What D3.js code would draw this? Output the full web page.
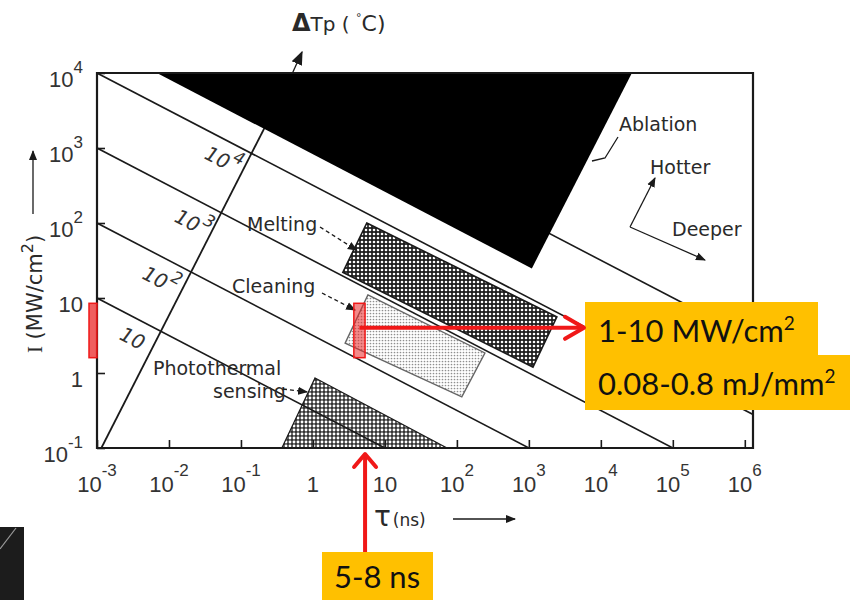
<!DOCTYPE html>
<html>
<head>
<meta charset="utf-8">
<script src="https://cdnjs.cloudflare.com/ajax/libs/d3/7.8.5/d3.min.js"></script>
<style>
  body { margin: 0; background: #fff; }
  svg { display: block; }
</style>
</head>
<body>
<svg width="850" height="600"></svg>
<script>
// pulse duration tau (ns) ticks
var xTickValues = [1e-3, 1e-2, 1e-1, 1, 10, 100, 1e3, 1e4, 1e5, 1e6];
var xTickBase = ["10", "10", "10", "1", "10", "10", "10", "10", "10", "10"];
var xTickExp = ["-3", "-2", "-1", "", "", "2", "3", "4", "5", "6"];

// intensity I (MW/cm2) ticks
var yTickValues = [0.1, 1, 10, 100, 1e3, 1e4];
var yTickBase = ["10", "1", "10", "10", "10", "10"];
var yTickExp = ["-1", "", "", "2", "3", "4"];

// iso-temperature lines dTp (deg C), end points [tau, I]
var isoBase = ["10", "10", "10", "10", "10"];
var isoExp = ["", "2", "3", "4", "5"];
var isoStart = [[1e-3, 10], [1e-3, 100], [1e-3, 1000], [1e-3, 1e4], [0.1, 1e4]];
var isoEnd = [[10, 0.1], [1000, 0.1], [1e5, 0.1], [1.3e6, 0.28], [1.3e6, 2.8]];
var isoLabelAt = [[0.0031, 2.9], [0.0075, 17.4], [0.021, 100], [0.055, 690], null];

// dTp axis line
var tempAxis = [[1.15e-3, 0.1], [0.52, 1e4]];

// process regions [tau, I]
var ablation = [[0.0068, 1e4], [1100, 24.8], [27000, 1e4]];
var melting = [[5.6, 100], [2450, 5.6], [1140, 1.2], [2.6, 22]];
var cleaning = [[5.8, 11], [245, 1.85], [117, 0.48], [2.8, 2.5]];
var photothermal = [[1.07, 0.86], [73, 0.1], [0.37, 0.1]];

// highlighted working point
var markI = [1.6, 8.5];
var markTau = [3.7, 5.3];
var arrowI = 4;
var arrowTau = 5.3;
var boxLines = ["1-10 MW/cm", "0.08-0.8 mJ/mm"];
var pulseText = "5-8 ns";

var svg = d3.select("svg"),
  width = +svg.attr("width"),
  height = +svg.attr("height");

var x = d3.scaleLog().domain([1e-3, 1.3e6]).range([97, 753]);
var y = d3.scaleLog().domain([0.1, 1e4]).range([448, 73]);

var line = d3.line()
  .x(function (d) { return x(d[0]); })
  .y(function (d) { return y(d[1]); });

var figFont = "DejaVu Sans, sans-serif";
var ink = "#1a1a1a";

var defs = svg.append("defs");
defs.append("clipPath").attr("id", "plot")
  .append("rect").attr("x", 97).attr("y", 73)
  .attr("width", 656).attr("height", 375);

function dotPattern(id, size, bg, dot, r) {
  var p = defs.append("pattern").attr("id", id)
    .attr("width", size).attr("height", size)
    .attr("patternUnits", "userSpaceOnUse");
  p.append("rect").attr("width", size).attr("height", size).attr("fill", bg);
  p.append("circle").attr("cx", size / 2).attr("cy", size / 2).attr("r", r).attr("fill", dot);
}
dotPattern("meltPat", 4, "#1e1e1e", "#fff", 1.3);
dotPattern("photoPat", 4, "#333", "#fff", 1.45);
dotPattern("cleanPat", 3, "#fff", "#8f8f8f", 0.85);

function arrowMarker(id, color, w) {
  defs.append("marker").attr("id", id)
    .attr("viewBox", "0 0 10 10").attr("refX", 9).attr("refY", 5)
    .attr("markerWidth", w).attr("markerHeight", w)
    .attr("markerUnits", "userSpaceOnUse")
    .attr("orient", "auto")
    .append("path").attr("d", "M0,1 L10,5 L0,9 Z").attr("fill", color);
}
arrowMarker("tri", ink, 10);
arrowMarker("triBig", ink, 14);

svg.append("rect").attr("width", width).attr("height", height).attr("fill", "#fff");

var plot = svg.append("g").attr("clip-path", "url(#plot)");

// regions under the lines
plot.append("path").attr("d", line(melting) + "Z")
  .attr("fill", "url(#meltPat)").attr("stroke", ink).attr("stroke-width", 1.6);
plot.append("path").attr("d", line(cleaning) + "Z")
  .attr("fill", "url(#cleanPat)").attr("stroke", "#666").attr("stroke-width", 1.4);
plot.append("path").attr("d", line(photothermal) + "Z")
  .attr("fill", "url(#photoPat)").attr("stroke", ink).attr("stroke-width", 1.2);

// iso lines
plot.selectAll(".iso")
  .data(isoStart)
  .enter()
  .append("path")
  .attr("class", "iso")
  .attr("d", function (d, i) { return line([d, isoEnd[i]]); })
  .attr("fill", "none")
  .attr("stroke", ink)
  .attr("stroke-width", 1.6);

plot.append("path").attr("d", line(tempAxis))
  .attr("fill", "none").attr("stroke", ink).attr("stroke-width", 1.8);

// ablation
plot.append("path").attr("d", line(ablation) + "Z").attr("fill", "#000");

// frame
svg.append("path")
  .attr("d", "M97,73 H753 V448 H97 Z")
  .attr("fill", "none").attr("stroke", ink).attr("stroke-width", 2.2);

var xAxis = d3.axisBottom(x).tickValues(xTickValues).tickSize(-8).tickFormat("");
var gx = svg.append("g").attr("transform", "translate(0,448)").call(xAxis);
gx.select(".domain").remove();
gx.selectAll("line").attr("stroke", ink).attr("stroke-width", 1.6);

var yAxis = d3.axisLeft(y).tickValues(yTickValues).tickSize(-8).tickFormat("");
var gy = svg.append("g").attr("transform", "translate(97,0)").call(yAxis);
gy.select(".domain").remove();
gy.selectAll("line").attr("stroke", ink).attr("stroke-width", 1.6);

function expText(t, base, exp, size, expSize, rise) {
  t.append("tspan").text(base);
  if (exp) {
    t.append("tspan").attr("dy", -rise).attr("font-size", expSize).text(exp);
  }
}

xTickValues.forEach(function (v, i) {
  var t = svg.append("text")
    .attr("x", x(v))
    .attr("y", 492)
    .attr("text-anchor", "middle")
    .attr("font-family", "Liberation Sans, Arial, sans-serif")
    .attr("font-size", 22)
    .attr("fill", "#333");
  expText(t, xTickBase[i], xTickExp[i], 22, 17, 16);
});

yTickValues.forEach(function (v, i) {
  var t = svg.append("text")
    .attr("x", 83)
    .attr("y", y(v) + 14)
    .attr("text-anchor", "end")
    .attr("font-family", "Liberation Sans, Arial, sans-serif")
    .attr("font-size", 22)
    .attr("fill", "#333");
  expText(t, yTickBase[i], yTickExp[i], 22, 17, 14);
});

// iso labels
isoLabelAt.forEach(function (p, i) {
  if (!p) return;
  var t = svg.append("text")
    .attr("transform", "translate(" + x(p[0]) + "," + y(p[1]) + ") rotate(28) skewX(-8)")
    .attr("text-anchor", "middle")
    .attr("dy", 7)
    .attr("font-family", figFont)
    .attr("font-size", 20)
    .attr("fill", "#333");
  expText(t, isoBase[i], isoExp[i], 20, 17, 11);
});

// region labels
function label(txt, lx, ly, size) {
  svg.append("text").attr("x", lx).attr("y", ly)
    .attr("font-family", figFont).attr("font-size", size || 19)
    .attr("fill", "#2a2a2a").text(txt);
}
label("Melting", 247, 231);
label("Cleaning", 232, 293);
label("Photothermal", 153, 375);
label("sensing", 213, 398);
label("Ablation", 619, 131);
label("Hotter", 650, 174);
label("Deeper", 672, 236);

function leader(pts, dashed, marker) {
  svg.append("path").attr("d", d3.line()(pts))
    .attr("fill", "none").attr("stroke", ink).attr("stroke-width", 1.3)
    .attr("stroke-dasharray", dashed ? "4,3" : null)
    .attr("marker-end", marker ? "url(#" + marker + ")" : null);
}
leader([[320, 227], [x(melting[3][0]) + 14, y(melting[3][1]) - 22]], true, "tri");
leader([[322, 293], [x(cleaning[3][0]) + 10, y(cleaning[3][1]) - 33]], true, "tri");
leader([[283, 389], [x(photothermal[0][0]) - 8, y(photothermal[0][1]) + 14]], true, "tri");
leader([[592, 161], [605, 158], [618, 137]], false, null);
leader([[630, 227], [655, 178]], false, "tri");
leader([[630, 227], [705, 260]], false, "tri");

// dTp axis arrow and title
leader([[x(tempAxis[1][0]), y(tempAxis[1][1])], [302, 52]], false, "triBig");
var dt = svg.append("text").attr("x", 292).attr("y", 31)
  .attr("font-family", figFont).attr("fill", "#2a2a2a");
dt.append("tspan").attr("font-size", 24).attr("font-weight", "bold").text("Δ");
dt.append("tspan").attr("font-size", 20).text("Tp ( ");
dt.append("tspan").attr("font-size", 11).attr("dy", -10).text("°");
dt.append("tspan").attr("font-size", 22).attr("dy", 10).text("C)");

// axis titles
var xt = svg.append("text").attr("x", 374).attr("y", 526)
  .attr("font-family", figFont).attr("fill", "#2a2a2a");
xt.append("tspan").attr("font-size", 28).text("τ");
xt.append("tspan").attr("font-size", 17).attr("dx", 2).text("(ns)");
leader([[453, 519], [515, 519]], false, "tri");

var yt = svg.append("text")
  .attr("transform", "translate(42,294) rotate(-90)")
  .attr("text-anchor", "middle")
  .attr("font-family", figFont).attr("font-size", 21)
  .attr("fill", "#2a2a2a");
yt.append("tspan").attr("font-family", "Liberation Serif, serif").text("I");
yt.append("tspan").text(" (MW/cm");
yt.append("tspan").attr("font-size", 16).attr("dy", -9).text("2");
yt.append("tspan").attr("dy", 9).text(")");
leader([[33, 214], [33, 151]], false, "tri");

// highlight boxes
var orange = "#FFC000";
var red = "#F01818";
var fontBox = "Lato, Open Sans, sans-serif";

svg.append("rect").attr("x", 585).attr("y", 302).attr("width", 233).attr("height", 54).attr("fill", orange);
svg.append("rect").attr("x", 585).attr("y", 355).attr("width", 265).attr("height", 55).attr("fill", orange);
svg.append("rect").attr("x", 322).attr("y", 552).attr("width", 111).attr("height", 48).attr("fill", orange);

boxLines.forEach(function (s, i) {
  var t = svg.append("text").attr("x", 598).attr("y", 342 + i * 53)
    .attr("font-family", fontBox).attr("font-size", 31).attr("fill", "#111");
  t.append("tspan").text(s);
  t.append("tspan").attr("font-size", 19).attr("dy", -12).text("2");
});
svg.append("text").attr("x", 377).attr("y", 588)
  .attr("text-anchor", "middle")
  .attr("font-family", fontBox).attr("font-size", 31).attr("fill", "#111")
  .text(pulseText);

// red markers
svg.append("rect")
  .attr("x", 89).attr("y", y(markI[1]))
  .attr("width", 8).attr("height", y(markI[0]) - y(markI[1]))
  .attr("fill", "rgba(235,40,40,0.75)").attr("stroke", red).attr("stroke-width", 1.5);
svg.append("rect")
  .attr("x", x(markTau[0])).attr("y", y(markI[1]))
  .attr("width", x(markTau[1]) - x(markTau[0])).attr("height", y(markI[0]) - y(markI[1]))
  .attr("fill", "rgba(235,40,40,0.55)").attr("stroke", red).attr("stroke-width", 1.5);

var ax0 = (x(markTau[0]) + x(markTau[1])) / 2;
svg.append("line")
  .attr("x1", ax0).attr("y1", y(arrowI)).attr("x2", 583).attr("y2", y(arrowI))
  .attr("stroke", red).attr("stroke-width", 4);
svg.append("path")
  .attr("d", "M565," + (y(arrowI) - 11) + " L584," + y(arrowI) + " L565," + (y(arrowI) + 11))
  .attr("fill", "none").attr("stroke", red).attr("stroke-width", 4)
  .attr("stroke-linecap", "round").attr("stroke-linejoin", "round");

var vx = x(arrowTau);
svg.append("line")
  .attr("x1", vx).attr("y1", 552).attr("x2", vx).attr("y2", 455)
  .attr("stroke", red).attr("stroke-width", 4);
svg.append("path")
  .attr("d", "M" + (vx - 11) + ",467 L" + vx + ",454 L" + (vx + 11) + ",467")
  .attr("fill", "none").attr("stroke", red).attr("stroke-width", 4)
  .attr("stroke-linecap", "round").attr("stroke-linejoin", "round");

// slide edge artifact bottom-left
svg.append("rect").attr("x", 0).attr("y", 527).attr("width", 24).attr("height", 73).attr("fill", "#1c1c1c");
svg.append("line").attr("x1", 0).attr("y1", 549).attr("x2", 16).attr("y2", 528)
  .attr("stroke", "#9a9a9a").attr("stroke-width", 1.2);
</script>
</body>
</html>
